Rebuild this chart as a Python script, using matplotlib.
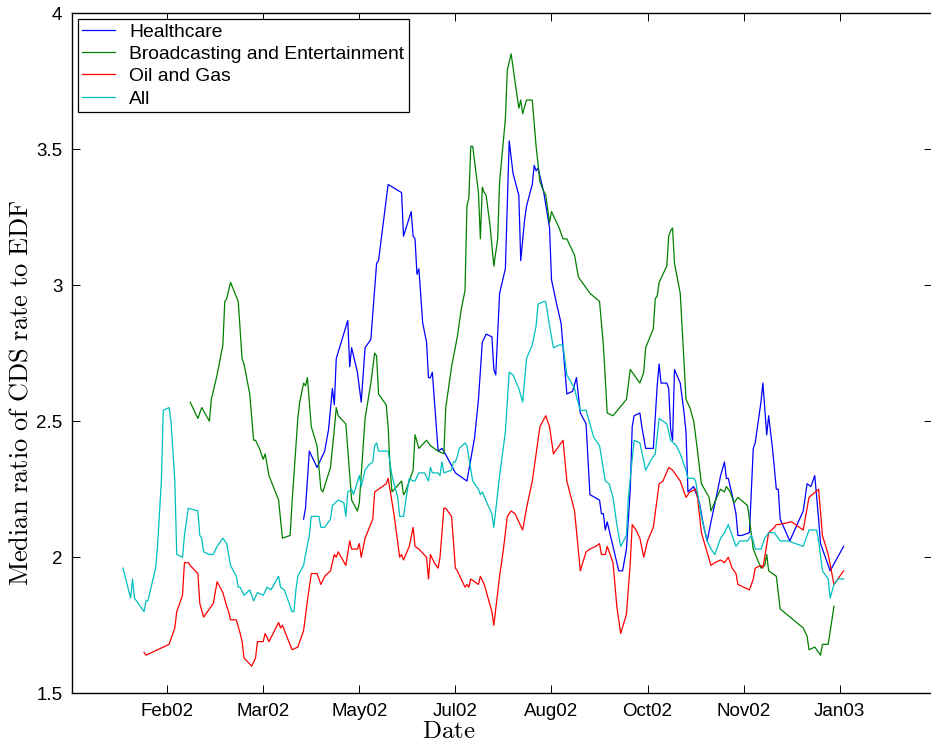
import numpy as np
import matplotlib

matplotlib.use("Agg")
import matplotlib.pyplot as plt
import matplotlib.dates as mdates
from matplotlib.ticker import FuncFormatter

plt.rcParams["font.family"] = ["Liberation Sans", "DejaVu Sans"]
plt.rcParams["mathtext.fontset"] = "cm"

START = np.datetime64("2002-01-01")

# days since START, median CDS/EDF ratio per sector
health_days = [102, 103, 105, 109, 113, 115, 117, 118, 119, 125, 126, 127, 130, 132, 134, 137,
               140, 141, 146, 153, 154, 158, 159, 160, 161, 162, 164, 166, 167, 168, 169, 172,
               174, 175, 178, 181, 187, 191, 193, 195, 197, 200, 201, 202, 204, 207, 209, 211,
               214, 215, 217, 218, 221, 222, 223, 224, 227, 230, 231, 234, 236, 239, 242, 244,
               246, 249, 251, 256, 257, 258, 259, 260, 263, 266, 268, 270, 272, 273, 274, 277,
               278, 280, 284, 286, 287, 288, 291, 292, 293, 294, 295, 298, 300, 301, 302, 305,
               308, 310, 312, 314, 317, 319, 321, 322, 323, 325, 327, 328, 330, 334, 336, 337,
               340, 341, 343, 344, 346, 348, 349, 350, 355, 362, 364, 366, 368, 370, 371, 376,
               383]
health_ratio = [2.14, 2.18, 2.39, 2.33, 2.39, 2.47, 2.62, 2.56, 2.73, 2.87, 2.70, 2.77, 2.68, 2.57, 2.77, 2.80,
                3.08, 3.09, 3.37, 3.34, 3.18, 3.27, 3.18, 3.17, 3.04, 3.06, 2.86, 2.79, 2.66, 2.66, 2.68, 2.39,
                2.40, 2.39, 2.35, 2.31, 2.28, 2.44, 2.58, 2.79, 2.82, 2.81, 2.69, 2.67, 2.97, 3.06, 3.53, 3.41,
                3.33, 3.09, 3.24, 3.29, 3.37, 3.44, 3.42, 3.43, 3.34, 3.21, 3.02, 2.92, 2.86, 2.60, 2.61, 2.66,
                2.53, 2.49, 2.23, 2.21, 2.16, 2.16, 2.10, 2.13, 2.04, 1.95, 1.95, 2.03, 2.25, 2.48, 2.52, 2.53,
                2.48, 2.40, 2.40, 2.63, 2.71, 2.64, 2.64, 2.62, 2.47, 2.43, 2.69, 2.64, 2.53, 2.46, 2.24, 2.26,
                2.20, 2.12, 2.06, 2.13, 2.23, 2.30, 2.35, 2.29, 2.29, 2.23, 2.16, 2.08, 2.08, 2.09, 2.40, 2.42,
                2.57, 2.64, 2.45, 2.52, 2.40, 2.25, 2.25, 2.14, 2.06, 2.17, 2.27, 2.26, 2.30, 2.14, 2.05, 1.95,
                2.04]

media_days = [43, 47, 49, 53, 54, 56, 57, 60, 61, 62, 64, 68, 70, 71, 74, 76, 77, 79, 81, 82,
              84, 89, 91, 95, 96, 99, 100, 102, 103, 104, 106, 109, 111, 112, 116, 118, 119, 120,
              124, 127, 130, 131, 134, 137, 139, 140, 141, 145, 146, 147, 148, 153, 154, 155, 159,
              160, 162, 166, 168, 172, 175, 176, 179, 182, 184, 186, 187, 188, 189, 190, 193, 194,
              195, 196, 197, 199, 201, 203, 204, 207, 208, 210, 212, 214, 215, 216, 218, 221, 223,
              225, 226, 228, 230, 231, 233, 235, 237, 239, 243, 245, 246, 249, 251, 256, 258, 260,
              263, 270, 272, 274, 277, 279, 280, 284, 285, 286, 287, 291, 292, 293, 294, 295, 298,
              301, 303, 305, 307, 309, 313, 314, 317, 319, 321, 322, 324, 326, 328, 333, 334, 336,
              340, 342, 343, 344, 348, 350, 362, 364, 365, 368, 369, 371, 372, 375, 378]
media_ratio = [2.57, 2.51, 2.55, 2.50, 2.58, 2.64, 2.67, 2.78, 2.94, 2.95, 3.01, 2.94, 2.73, 2.71, 2.60, 2.43,
               2.43, 2.40, 2.36, 2.38, 2.30, 2.21, 2.07, 2.08, 2.20, 2.51, 2.57, 2.64, 2.63, 2.66, 2.48, 2.41,
               2.25, 2.24, 2.33, 2.47, 2.55, 2.52, 2.49, 2.21, 2.17, 2.20, 2.51, 2.64, 2.75, 2.74, 2.60, 2.56,
               2.48, 2.33, 2.24, 2.28, 2.23, 2.24, 2.32, 2.45, 2.40, 2.43, 2.41, 2.39, 2.38, 2.55, 2.70, 2.81,
               2.91, 2.98, 3.29, 3.32, 3.51, 3.51, 3.34, 3.17, 3.36, 3.34, 3.33, 3.22, 3.07, 3.17, 3.38, 3.61,
               3.79, 3.85, 3.75, 3.65, 3.68, 3.63, 3.68, 3.68, 3.51, 3.38, 3.36, 3.33, 3.23, 3.27, 3.24, 3.21,
               3.17, 3.17, 3.11, 3.03, 3.02, 2.99, 2.97, 2.94, 2.78, 2.53, 2.52, 2.58, 2.69, 2.67, 2.64, 2.68,
               2.77, 2.84, 2.95, 2.96, 3.01, 3.07, 3.18, 3.20, 3.21, 3.08, 2.97, 2.58, 2.55, 2.50, 2.39, 2.27,
               2.22, 2.17, 2.22, 2.25, 2.24, 2.26, 2.24, 2.20, 2.22, 2.19, 2.14, 2.03, 1.96, 1.97, 2.01, 1.95,
               1.93, 1.81, 1.74, 1.71, 1.66, 1.67, 1.66, 1.64, 1.68, 1.68, 1.82]

oil_days = [19, 20, 32, 35, 36, 39, 40, 42, 43, 47, 48, 50, 53, 55, 57, 60, 62, 63, 64, 67,
            69, 70, 71, 75, 77, 78, 81, 82, 84, 89, 90, 91, 96, 99, 102, 104, 106, 109, 111, 113,
            116, 118, 119, 120, 124, 126, 127, 130, 131, 132, 134, 138, 139, 141, 145, 146, 149,
            152, 153, 154, 157, 159, 160, 162, 166, 167, 168, 170, 172, 173, 175, 176, 177, 179,
            181, 182, 186, 187, 188, 189, 191, 193, 194, 196, 198, 200, 201, 204, 206, 208, 210,
            212, 216, 218, 221, 223, 225, 228, 229, 230, 232, 235, 237, 239, 243, 246, 249, 251,
            254, 256, 257, 259, 260, 263, 265, 267, 270, 272, 273, 275, 277, 279, 281, 284, 287,
            289, 292, 294, 298, 301, 303, 306, 307, 309, 314, 316, 319, 321, 323, 325, 327, 328,
            334, 336, 337, 340, 341, 344, 347, 348, 349, 356, 362, 365, 370, 372, 375, 378, 380,
            383]
oil_ratio = [1.65, 1.64, 1.68, 1.74, 1.80, 1.86, 1.98, 1.98, 1.97, 1.94, 1.83, 1.78, 1.81, 1.83, 1.91, 1.87,
             1.82, 1.80, 1.77, 1.77, 1.72, 1.69, 1.63, 1.60, 1.63, 1.69, 1.69, 1.72, 1.69, 1.76, 1.74, 1.75,
             1.66, 1.67, 1.73, 1.84, 1.94, 1.94, 1.90, 1.93, 1.95, 2.01, 2.00, 2.02, 1.97, 2.06, 2.03, 2.03,
             2.05, 2.00, 2.07, 2.14, 2.24, 2.25, 2.27, 2.29, 2.16, 2.00, 2.01, 1.99, 2.04, 2.11, 2.04, 2.03,
             2.00, 1.92, 2.01, 1.98, 1.96, 2.00, 2.18, 2.18, 2.17, 2.15, 1.96, 1.95, 1.89, 1.90, 1.89, 1.92,
             1.91, 1.90, 1.93, 1.90, 1.85, 1.80, 1.75, 1.93, 2.03, 2.15, 2.17, 2.16, 2.10, 2.18, 2.28, 2.38,
             2.48, 2.52, 2.50, 2.48, 2.38, 2.41, 2.43, 2.28, 2.17, 1.95, 2.02, 2.03, 2.04, 2.05, 2.01, 2.01,
             2.04, 1.98, 1.82, 1.72, 1.79, 1.98, 2.12, 2.10, 2.07, 2.00, 2.06, 2.11, 2.27, 2.28, 2.33, 2.32,
             2.28, 2.22, 2.24, 2.25, 2.22, 2.09, 1.97, 1.98, 1.99, 1.98, 2.00, 1.96, 1.94, 1.90, 1.88, 1.92,
             1.96, 1.97, 1.96, 2.09, 2.11, 2.12, 2.12, 2.13, 2.10, 2.22, 2.25, 2.08, 2.01, 1.90, 1.92, 1.95]

all_days = [8, 12, 13, 14, 19, 20, 21, 25, 26, 28, 29, 32, 33, 35, 36, 39, 40, 42, 47, 48,
            49, 50, 53, 55, 57, 60, 62, 64, 67, 68, 69, 71, 74, 76, 78, 81, 83, 85, 89, 90,
            92, 96, 97, 98, 99, 102, 103, 105, 106, 110, 111, 113, 116, 117, 120, 123, 124, 125,
            127, 128, 131, 132, 134, 136, 138, 139, 140, 141, 146, 148, 151, 152, 154, 155, 157,
            159, 160, 162, 165, 167, 168, 169, 172, 173, 174, 175, 179, 180, 181, 182, 183, 186,
            187, 190, 193, 194, 195, 198, 200, 201, 204, 207, 209, 211, 214, 216, 218, 221, 223,
            224, 227, 228, 230, 232, 235, 237, 239, 243, 244, 246, 249, 251, 253, 256, 259, 261,
            263, 265, 267, 270, 271, 273, 274, 277, 280, 283, 285, 287, 289, 291, 293, 296, 298,
            301, 302, 305, 306, 309, 312, 314, 316, 319, 321, 323, 325, 327, 329, 330, 333, 335,
            336, 337, 340, 342, 344, 347, 350, 354, 362, 365, 369, 370, 372, 375, 376, 378, 380,
            383]
all_ratio = [1.96, 1.85, 1.92, 1.85, 1.80, 1.84, 1.84, 1.96, 2.04, 2.28, 2.54, 2.55, 2.50, 2.28, 2.01, 2.00,
             2.08, 2.18, 2.17, 2.08, 2.07, 2.02, 2.01, 2.01, 2.04, 2.07, 2.05, 1.97, 1.93, 1.89, 1.89, 1.86,
             1.88, 1.84, 1.87, 1.86, 1.89, 1.88, 1.93, 1.89, 1.88, 1.80, 1.80, 1.88, 1.93, 1.97, 2.01, 2.08,
             2.15, 2.15, 2.11, 2.11, 2.14, 2.19, 2.21, 2.20, 2.15, 2.24, 2.25, 2.23, 2.30, 2.26, 2.32, 2.34,
             2.35, 2.41, 2.42, 2.39, 2.39, 2.30, 2.22, 2.15, 2.15, 2.20, 2.29, 2.28, 2.28, 2.31, 2.31, 2.28,
             2.33, 2.31, 2.31, 2.30, 2.35, 2.31, 2.32, 2.35, 2.35, 2.37, 2.40, 2.42, 2.41, 2.28, 2.25, 2.23,
             2.24, 2.19, 2.16, 2.11, 2.30, 2.46, 2.68, 2.67, 2.62, 2.57, 2.73, 2.78, 2.85, 2.93, 2.94, 2.94,
             2.85, 2.77, 2.78, 2.78, 2.67, 2.62, 2.59, 2.54, 2.54, 2.49, 2.44, 2.41, 2.28, 2.27, 2.22, 2.12,
             2.04, 2.08, 2.22, 2.36, 2.43, 2.42, 2.32, 2.36, 2.38, 2.51, 2.50, 2.49, 2.43, 2.41, 2.38, 2.32,
             2.29, 2.29, 2.28, 2.15, 2.06, 2.03, 2.01, 2.07, 2.09, 2.12, 2.08, 2.04, 2.06, 2.06, 2.06, 2.08,
             2.06, 2.03, 2.03, 2.07, 2.09, 2.09, 2.06, 2.06, 2.04, 2.10, 2.10, 2.06, 1.95, 1.92, 1.85, 1.90,
             1.92, 1.92]

series = [
    ("Healthcare", health_days, health_ratio, (0, 0, 1)),
    ("Broadcasting and Entertainment", media_days, media_ratio, (0, 0.5, 0)),
    ("Oil and Gas", oil_days, oil_ratio, (1, 0, 0)),
    ("All", all_days, all_ratio, (0, 0.75, 0.75)),
]
tick_dates = np.datetime64("2002-02-01") + np.arange(8) * np.timedelta64(50, "D")
y_ticks = [1.5, 2, 2.5, 3, 3.5, 4]


def to_dates(days):
    return START + np.array(days, dtype="timedelta64[D]")


W, H = 931, 743
fig = plt.figure(figsize=(W / 100, H / 100), dpi=100)
ax = fig.add_axes([72 / W, 1 - 693.3 / H, 860 / W, 680.3 / H])

for name, days, ratio, color in series:
    ax.plot(to_dates(days), ratio, color=color, linewidth=0.9, label=name)

x0 = mdates.date2num(START)
ax.set_xlim(x0 - 18.5, x0 + 429)
ax.set_ylim(1.5, 4)
ax.set_xticks(tick_dates)
ax.xaxis.set_major_formatter(mdates.DateFormatter("%b%y"))
ax.set_yticks(y_ticks)
ax.yaxis.set_major_formatter(FuncFormatter(lambda v, _: f"{v:g}"))
ax.tick_params(direction="in", top=True, right=True, length=5.8, width=0.7,
               labelsize=13.5, pad=7)
for sp in ax.spines.values():
    sp.set_linewidth(1.0)

leg = ax.legend(loc="upper left", fontsize=13.9, fancybox=False, edgecolor="black",
                framealpha=1, borderaxespad=0.3, handlelength=1.7, handletextpad=0.75,
                labelspacing=0.25, borderpad=0.22)
leg.get_frame().set_linewidth(0.9)

fig.text(448.5 / W, 1 - 738 / H, r"$\mathrm{Date}$", ha="center", va="baseline", fontsize=18)
fig.text(21 / W, 1 - 393 / H, r"$\mathrm{Median\ ratio\ of\ CDS\ rate\ to\ EDF}$",
         rotation=90, ha="center", va="center", fontsize=19)

fig.savefig("out.png", dpi=100)
